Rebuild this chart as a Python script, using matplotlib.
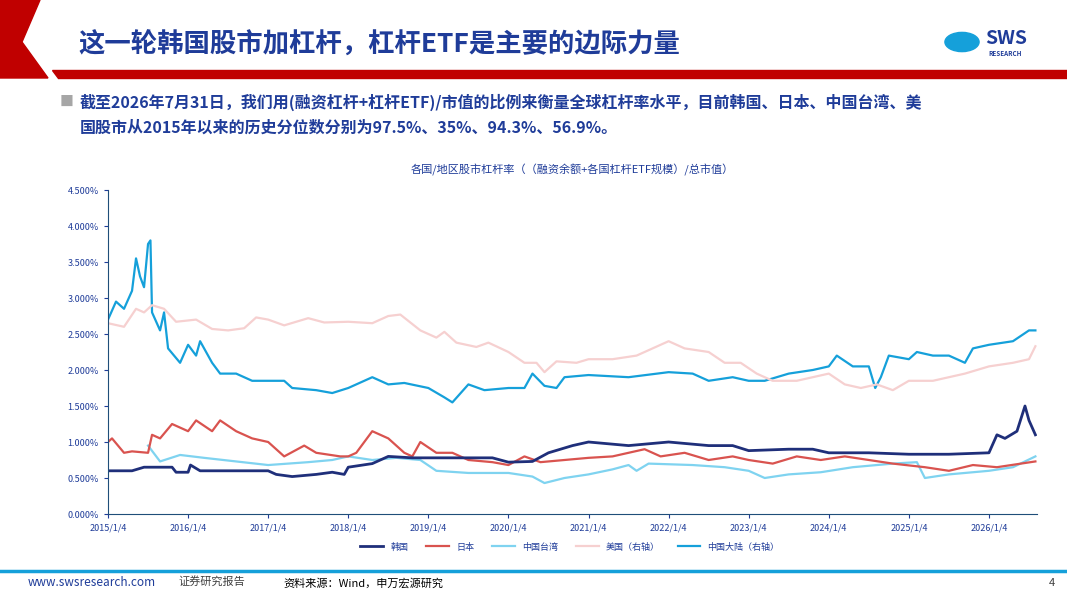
import matplotlib.pyplot as plt
from matplotlib.patches import Polygon
import numpy as np

plt.rcParams['font.family'] = ['Noto Sans CJK SC', 'DejaVu Sans']

# (decimal year, leverage %)
korea = [(2015.0,0.6),(2015.3,0.6),(2015.45,0.65),(2015.8,0.65),(2015.85,0.58),(2016.0,0.58),(2016.03,0.68),
         (2016.15,0.6),(2016.5,0.6),(2017.0,0.6),(2017.1,0.55),(2017.3,0.52),(2017.6,0.55),(2017.8,0.58),
         (2017.95,0.55),(2018.0,0.65),(2018.3,0.7),(2018.5,0.8),(2018.8,0.78),(2019.0,0.78),(2019.5,0.78),
         (2019.8,0.78),(2020.0,0.72),(2020.3,0.73),(2020.5,0.85),(2020.8,0.95),(2021.0,1.0),(2021.5,0.95),
         (2022.0,1.0),(2022.5,0.95),(2022.8,0.95),(2023.0,0.88),(2023.5,0.9),(2023.8,0.9),(2024.0,0.85),
         (2024.5,0.85),(2025.0,0.83),(2025.5,0.83),(2026.0,0.85),(2026.1,1.1),(2026.2,1.05),(2026.35,1.15),
         (2026.45,1.5),(2026.5,1.3),(2026.58,1.1)]
japan = [(2015.0,1.0),(2015.05,1.05),(2015.2,0.85),(2015.3,0.87),(2015.5,0.85),(2015.55,1.1),(2015.65,1.05),
         (2015.8,1.25),(2016.0,1.15),(2016.1,1.3),(2016.3,1.15),(2016.4,1.3),(2016.6,1.15),(2016.8,1.05),
         (2017.0,1.0),(2017.2,0.8),(2017.45,0.95),(2017.6,0.85),(2017.9,0.8),(2018.0,0.8),(2018.1,0.85),
         (2018.3,1.15),(2018.5,1.05),(2018.7,0.85),(2018.8,0.8),(2018.9,1.0),(2019.1,0.85),(2019.3,0.85),
         (2019.5,0.75),(2019.8,0.72),(2020.0,0.68),(2020.2,0.8),(2020.4,0.72),(2020.7,0.75),(2021.0,0.78),
         (2021.3,0.8),(2021.5,0.85),(2021.7,0.9),(2021.9,0.8),(2022.2,0.85),(2022.5,0.75),(2022.8,0.8),
         (2023.0,0.75),(2023.3,0.7),(2023.6,0.8),(2023.9,0.75),(2024.2,0.8),(2024.5,0.75),(2024.8,0.7),
         (2025.2,0.65),(2025.5,0.6),(2025.8,0.68),(2026.1,0.65),(2026.4,0.7),(2026.58,0.73)]
taiwan = [(2015.5,0.95),(2015.65,0.73),(2015.9,0.82),(2016.2,0.78),(2016.6,0.73),(2017.0,0.68),(2017.5,0.72),
          (2017.8,0.75),(2018.0,0.8),(2018.3,0.75),(2018.6,0.78),(2018.9,0.75),(2019.1,0.6),(2019.5,0.57),
          (2020.0,0.57),(2020.3,0.52),(2020.45,0.43),(2020.7,0.5),(2021.0,0.55),(2021.3,0.62),(2021.5,0.68),
          (2021.6,0.6),(2021.75,0.7),(2022.3,0.68),(2022.7,0.65),(2023.0,0.6),(2023.2,0.5),(2023.5,0.55),
          (2023.9,0.58),(2024.3,0.65),(2024.8,0.7),(2025.1,0.72),(2025.2,0.5),(2025.5,0.55),(2026.0,0.6),
          (2026.3,0.65),(2026.58,0.8)]
usa = [(2015.0,2.65),(2015.2,2.6),(2015.35,2.85),(2015.45,2.8),(2015.55,2.9),(2015.7,2.85),(2015.85,2.67),
       (2016.1,2.7),(2016.3,2.57),(2016.5,2.55),(2016.7,2.58),(2016.85,2.73),(2017.0,2.7),(2017.2,2.62),
       (2017.5,2.72),(2017.7,2.66),(2018.0,2.67),(2018.3,2.65),(2018.5,2.75),(2018.65,2.77),(2018.9,2.55),
       (2019.1,2.45),(2019.2,2.53),(2019.35,2.38),(2019.6,2.32),(2019.75,2.38),(2020.0,2.25),(2020.2,2.1),
       (2020.35,2.1),(2020.45,1.97),(2020.6,2.12),(2020.85,2.1),(2021.0,2.15),(2021.3,2.15),(2021.6,2.2),
       (2022.0,2.4),(2022.2,2.3),(2022.5,2.25),(2022.7,2.1),(2022.9,2.1),(2023.1,1.95),(2023.3,1.85),
       (2023.6,1.85),(2023.8,1.9),(2024.0,1.95),(2024.2,1.8),(2024.4,1.75),(2024.6,1.8),(2024.8,1.72),
       (2025.0,1.85),(2025.3,1.85),(2025.5,1.9),(2025.7,1.95),(2026.0,2.05),(2026.3,2.1),(2026.5,2.15),
       (2026.58,2.33)]
mainland = [(2015.0,2.7),(2015.1,2.95),(2015.2,2.85),(2015.3,3.1),(2015.35,3.55),(2015.4,3.3),(2015.45,3.15),
            (2015.5,3.75),(2015.53,3.8),(2015.55,2.8),(2015.65,2.55),(2015.7,2.8),(2015.75,2.3),(2015.9,2.1),
            (2016.0,2.35),(2016.1,2.2),(2016.15,2.4),(2016.3,2.1),(2016.4,1.95),(2016.6,1.95),(2016.8,1.85),
            (2017.0,1.85),(2017.2,1.85),(2017.3,1.75),(2017.6,1.72),(2017.8,1.68),(2018.0,1.75),(2018.2,1.85),
            (2018.3,1.9),(2018.5,1.8),(2018.7,1.82),(2019.0,1.75),(2019.2,1.62),(2019.3,1.55),(2019.5,1.8),
            (2019.7,1.72),(2020.0,1.75),(2020.2,1.75),(2020.3,1.95),(2020.45,1.78),(2020.6,1.75),(2020.7,1.9),
            (2021.0,1.93),(2021.5,1.9),(2022.0,1.97),(2022.3,1.95),(2022.5,1.85),(2022.8,1.9),(2023.0,1.85),
            (2023.2,1.85),(2023.5,1.95),(2023.8,2.0),(2024.0,2.05),(2024.1,2.2),(2024.3,2.05),(2024.5,2.05),
            (2024.58,1.75),(2024.65,1.9),(2024.75,2.2),(2025.0,2.15),(2025.1,2.25),(2025.3,2.2),(2025.5,2.2),
            (2025.7,2.1),(2025.8,2.3),(2026.0,2.35),(2026.3,2.4),(2026.5,2.55),(2026.58,2.55)]

series = [("韩国", korea, "#1F2F7A", 2.0), ("日本", japan, "#D9534F", 1.6),
          ("中国台湾", taiwan, "#7FD3F0", 1.6), ("美国（右轴）", usa, "#F6D0D0", 1.6),
          ("中国大陆（右轴）", mainland, "#15A0DA", 1.6)]
tick_years = list(range(2015, 2027))

fig = plt.figure(figsize=(10.67, 6), dpi=100)
W, H = 1067, 600
def px(x, y):
    return (x / W, 1 - y / H)

# header decoration
fig.patches.append(Polygon([px(0, 0), px(40, 0), px(22, 42), px(48, 78), px(0, 78)],
                           closed=True, transform=fig.transFigure, color="#C00000"))
fig.patches.append(Polygon([px(52, 70), px(1067, 70), px(1067, 78), px(58, 78)],
                           closed=True, transform=fig.transFigure, color="#C00000"))
fig.text(*px(78, 45), "这一轮韩国股市加杠杆，杠杆ETF是主要的边际力量", fontsize=19, fontweight="bold",
         color="#1F3C99", va="center")
fig.text(*px(985, 38), "SWS", fontsize=14, fontweight="bold", color="#1F3C99", va="center")
fig.text(*px(988, 53), "RESEARCH", fontsize=4.5, fontweight="bold", color="#1F3C99", va="center")
fig.patches.append(plt.Circle(px(962, 42), 0.016, transform=fig.transFigure, color="#15A0DA"))

fig.text(*px(60, 102), "■", fontsize=10, color="#A6A6A6", va="center")
fig.text(*px(80, 102), "截至2026年7月31日，我们用(融资杠杆+杠杆ETF)/市值的比例来衡量全球杠杆率水平，目前韩国、日本、中国台湾、美",
         fontsize=11.5, fontweight="bold", color="#1F3C99", va="center")
fig.text(*px(80, 128), "国股市从2015年以来的历史分位数分别为97.5%、35%、94.3%、56.9%。",
         fontsize=11.5, fontweight="bold", color="#1F3C99", va="center")

ax = fig.add_axes([108 / W, 86 / H, (1037 - 108) / W, (514 - 190) / H])
for name, pts, color, lw in series[::-1]:
    pts = np.array(pts)
    ax.plot(pts[:, 0], pts[:, 1], color=color, lw=lw, label=name)

ax.set_xlim(2015.0, 2026.6)
ax.set_ylim(0, 4.5)
ax.set_yticks(np.arange(0, 4.51, 0.5))
ax.set_yticklabels([f"{v:.3f}%" for v in np.arange(0, 4.51, 0.5)])
ax.set_xticks(tick_years)
ax.set_xticklabels([f"{y}/1/4" for y in tick_years])
ax.tick_params(labelsize=6.5, colors="#1F3C99", length=3, width=0.8)
for s in ["top", "right"]:
    ax.spines[s].set_visible(False)
for s in ["left", "bottom"]:
    ax.spines[s].set_color("#1F4E79")
ax.set_title("各国/地区股市杠杆率（（融资余额+各国杠杆ETF规模）/总市值）", fontsize=8, color="#1F3C99", pad=12)

handles, labels = ax.get_legend_handles_labels()
fig.legend(handles[::-1], labels[::-1], loc="center", bbox_to_anchor=px(570, 547), ncol=5, frameon=False,
           fontsize=6.5, labelcolor="#1F3C99", handlelength=2.5, columnspacing=2)

# footer
fig.add_artist(plt.Line2D([0, 1], [1 - 571 / H] * 2, color="#15A0DA", lw=2.5, transform=fig.transFigure))
fig.text(*px(28, 583), "www.swsresearch.com", fontsize=8.5, color="#1F3C99", va="center")
fig.text(*px(178, 581), "证券研究报告", fontsize=8, color="#404040", va="center")
fig.text(*px(283, 583), "资料来源：Wind，申万宏源研究", fontsize=8, color="#000000", va="center")
fig.text(*px(1055, 583), "4", fontsize=8, color="#404040", va="center", ha="right")

fig.savefig("out.png", dpi=100)
